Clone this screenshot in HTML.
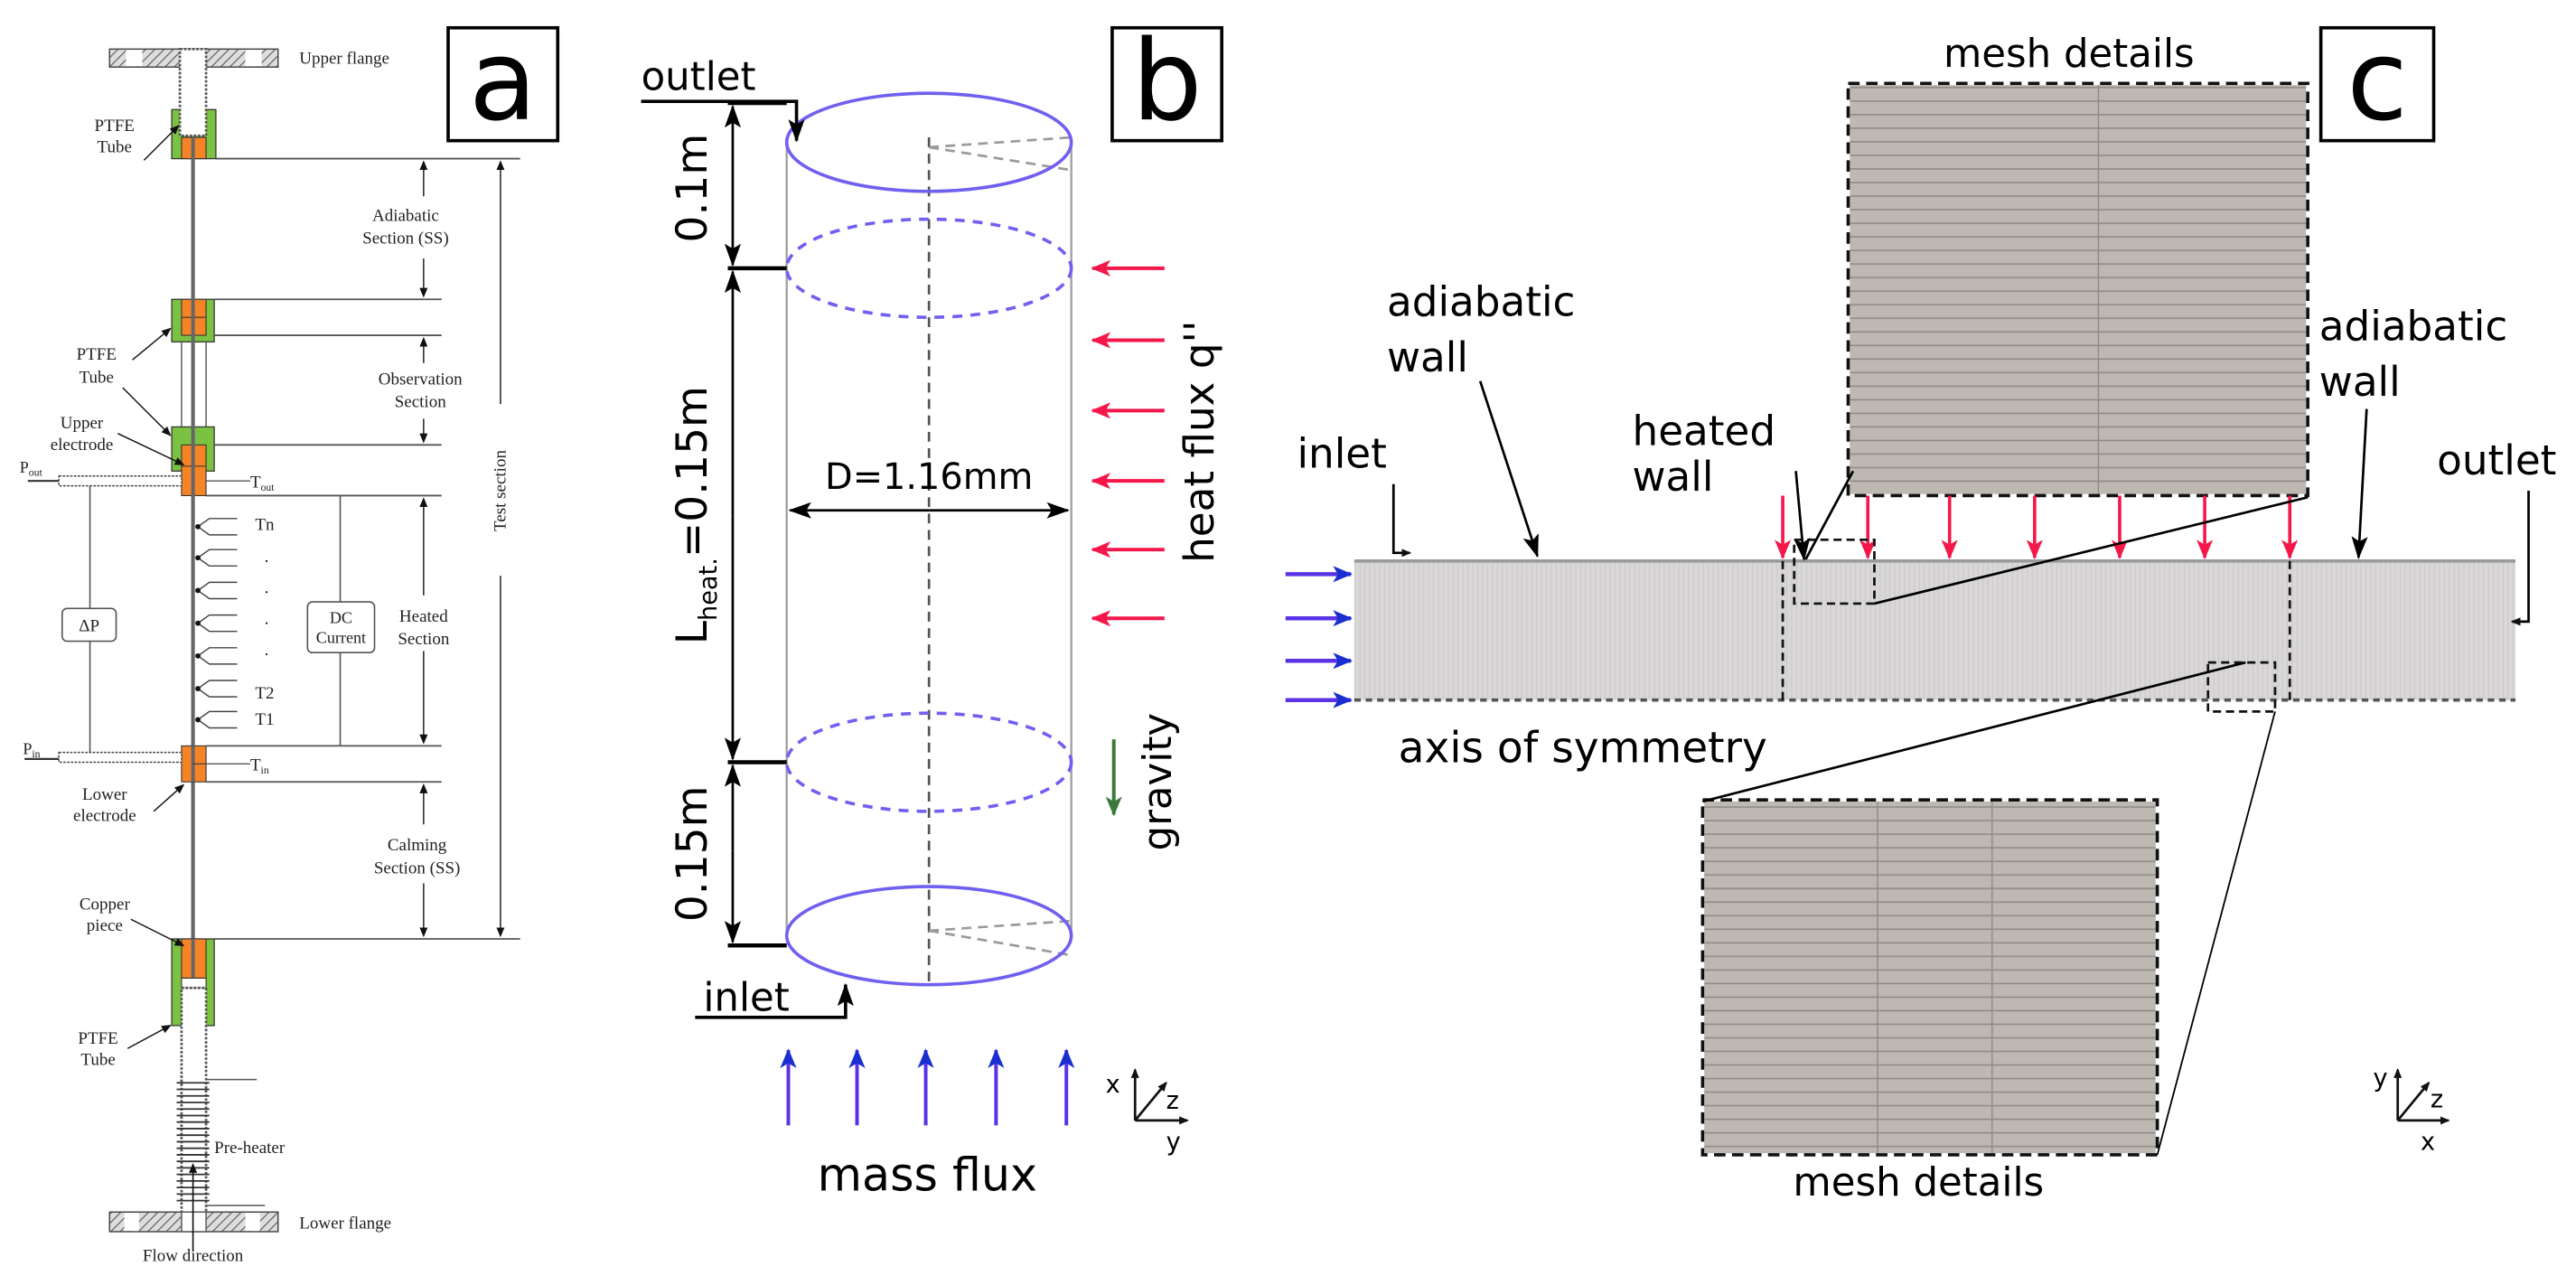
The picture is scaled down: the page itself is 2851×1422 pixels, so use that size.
<!DOCTYPE html>
<html><head><meta charset="utf-8"><style>
html,body{margin:0;padding:0;background:#fff;}
svg{display:block;}
.s{font-family:"Liberation Serif",serif;fill:#222;}
.d{font-family:"DejaVu Sans","Liberation Sans",sans-serif;fill:#000;}
</style></head><body>
<svg width="2851" height="1422" viewBox="0 0 1575 785.6" preserveAspectRatio="none" xmlns="http://www.w3.org/2000/svg">
<defs>
<pattern id="h" width="4" height="4" patternUnits="userSpaceOnUse" patternTransform="rotate(45)"><rect width="4" height="4" fill="#ddd"/><line x1="0" y1="0" x2="0" y2="4" stroke="#555" stroke-width="1.2"/></pattern>
<marker id="as" markerWidth="6" markerHeight="6" refX="5" refY="3" orient="auto" markerUnits="userSpaceOnUse"><path d="M0,0.5 L6,3 L0,5.5 Z" fill="#111"/></marker>
<marker id="ak" markerWidth="14" markerHeight="10" refX="13" refY="5" orient="auto" markerUnits="userSpaceOnUse"><path d="M0,0 L14,5 L0,10 L3,5 Z" fill="#000"/></marker>
<marker id="ar" markerWidth="12" markerHeight="10" refX="11" refY="5" orient="auto" markerUnits="userSpaceOnUse"><path d="M0,0 L12,5 L0,10 L3,5 Z" fill="#f5174a"/></marker>
<marker id="abl" markerWidth="12" markerHeight="10" refX="11" refY="5" orient="auto" markerUnits="userSpaceOnUse"><path d="M0,0 L12,5 L0,10 L3,5 Z" fill="#1a2fd0"/></marker>
<marker id="ag" markerWidth="12" markerHeight="10" refX="11" refY="5" orient="auto" markerUnits="userSpaceOnUse"><path d="M0,0 L12,5 L0,10 L3,5 Z" fill="#3c7a3c"/></marker>
<pattern id="mesh1" width="10" height="8.3" patternUnits="userSpaceOnUse" y="53"><rect width="10" height="8.3" fill="#bdb8b2"/><line x1="0" y1="0.5" x2="10" y2="0.5" stroke="#8f8a86" stroke-width="0.9"/></pattern>
<pattern id="chan" width="3" height="3" patternUnits="userSpaceOnUse"><rect width="3" height="3" fill="#d9d7d7"/><line x1="0.5" y1="0" x2="0.5" y2="3" stroke="#c8c6c6" stroke-width="0.5"/></pattern>
</defs>

<!-- ============ PANEL A ============ -->
<rect x="67" y="30" width="103" height="11" fill="url(#h)" stroke="#444" stroke-width="0.8"/>
<rect x="77" y="30.5" width="10" height="10" fill="#fff"/>
<rect x="150" y="30.5" width="10" height="10" fill="#fff"/>
<text x="183" y="39" class="s" font-size="10.5">Upper flange</text>
<rect x="105" y="67" width="27" height="30" fill="#7cc242" stroke="#333" stroke-width="0.7"/>
<rect x="111" y="84" width="15" height="13" fill="#f58426" stroke="#333" stroke-width="0.6"/>
<rect x="110" y="30" width="16" height="53" fill="#fff" stroke="#555" stroke-width="1.5" stroke-dasharray="1.5,1"/>
<line x1="118" y1="84" x2="118" y2="740" stroke="#666" stroke-width="2.2"/>
<text x="70" y="80" class="s" font-size="10.5" text-anchor="middle">PTFE</text>
<text x="70" y="93" class="s" font-size="10.5" text-anchor="middle">Tube</text>
<line x1="88" y1="98" x2="109" y2="77" stroke="#111" stroke-width="0.8" marker-end="url(#as)"/>
<line x1="132" y1="97" x2="318" y2="97" stroke="#555" stroke-width="1"/>
<rect x="105" y="183" width="26" height="26" fill="#7cc242" stroke="#333" stroke-width="0.7"/>
<rect x="111" y="183" width="15" height="22" fill="#f58426" stroke="#333" stroke-width="0.6"/>
<line x1="111" y1="194" x2="126" y2="194" stroke="#333" stroke-width="0.6"/>
<line x1="131" y1="183" x2="270" y2="183" stroke="#555" stroke-width="1"/>
<line x1="131" y1="205" x2="270" y2="205" stroke="#555" stroke-width="1"/>
<line x1="111" y1="209" x2="111" y2="261" stroke="#555" stroke-width="0.8"/>
<line x1="126" y1="209" x2="126" y2="261" stroke="#555" stroke-width="0.8"/>
<rect x="105" y="261" width="26" height="27" fill="#7cc242" stroke="#333" stroke-width="0.7"/>
<rect x="111" y="272" width="15" height="31" fill="#f58426" stroke="#333" stroke-width="0.6"/>
<line x1="111" y1="285" x2="126" y2="285" stroke="#333" stroke-width="0.6"/>
<line x1="118" y1="97" x2="118" y2="740" stroke="#666" stroke-width="2.2"/>
<line x1="131" y1="272" x2="270" y2="272" stroke="#555" stroke-width="1"/>
<line x1="126" y1="303" x2="270" y2="303" stroke="#555" stroke-width="1"/>
<text x="59" y="220" class="s" font-size="10.5" text-anchor="middle">PTFE</text>
<text x="59" y="234" class="s" font-size="10.5" text-anchor="middle">Tube</text>
<line x1="81" y1="220" x2="104" y2="201" stroke="#111" stroke-width="0.8" marker-end="url(#as)"/>
<line x1="75" y1="237" x2="104" y2="266" stroke="#111" stroke-width="0.8" marker-end="url(#as)"/>
<text x="50" y="262" class="s" font-size="10.5" text-anchor="middle">Upper</text>
<text x="50" y="275" class="s" font-size="10.5" text-anchor="middle">electrode</text>
<line x1="72" y1="265" x2="112" y2="284" stroke="#111" stroke-width="0.8" marker-end="url(#as)"/>
<text x="12" y="289" class="s" font-size="10">P<tspan font-size="6.5" dy="2">out</tspan></text>
<line x1="17" y1="294" x2="36" y2="294" stroke="#333" stroke-width="1.2"/>
<rect x="36" y="291" width="75" height="6" fill="#fff" stroke="#444" stroke-width="0.8" stroke-dasharray="1.5,0.8"/>
<line x1="126" y1="294" x2="153" y2="294" stroke="#555" stroke-width="0.8"/>
<text x="153" y="298" class="s" font-size="10.5">T<tspan font-size="6.5" dy="2">out</tspan></text>
<g stroke="#444" stroke-width="0.8" fill="none">
<path d="M121,322 L128,317 H145 M121,322 L128,327 H145"/>
<path d="M121,341 L128,336 H145 M121,341 L128,346 H145"/>
<path d="M121,361 L128,356 H145 M121,361 L128,366 H145"/>
<path d="M121,381 L128,376 H145 M121,381 L128,386 H145"/>
<path d="M121,401 L128,396 H145 M121,401 L128,406 H145"/>
<path d="M121,421 L128,416 H145 M121,421 L128,426 H145"/>
<path d="M121,440 L128,435 H145 M121,440 L128,445 H145"/>
</g>
<g fill="#111"><circle cx="121" cy="322" r="1.6"/><circle cx="121" cy="341" r="1.6"/><circle cx="121" cy="361" r="1.6"/><circle cx="121" cy="381" r="1.6"/><circle cx="121" cy="401" r="1.6"/><circle cx="121" cy="421" r="1.6"/><circle cx="121" cy="440" r="1.6"/>
<circle cx="163" cy="343" r="0.6"/><circle cx="163" cy="362" r="0.6"/><circle cx="163" cy="381" r="0.6"/><circle cx="163" cy="400" r="0.6"/></g>
<text x="156" y="324" class="s" font-size="10.5">Tn</text>
<text x="156" y="427" class="s" font-size="10.5">T2</text>
<text x="156" y="443" class="s" font-size="10.5">T1</text>
<line x1="55" y1="297" x2="55" y2="372" stroke="#555" stroke-width="0.9"/>
<line x1="55" y1="392" x2="55" y2="460" stroke="#555" stroke-width="0.9"/>
<rect x="38" y="372" width="33" height="20" rx="3" fill="#fff" stroke="#555" stroke-width="0.9"/>
<text x="54.5" y="386" class="s" font-size="10.5" text-anchor="middle">ΔP</text>
<line x1="208" y1="303" x2="208" y2="368" stroke="#555" stroke-width="0.9"/>
<line x1="208" y1="399" x2="208" y2="456" stroke="#555" stroke-width="0.9"/>
<rect x="188" y="368" width="41" height="31" rx="3" fill="#fff" stroke="#555" stroke-width="0.9"/>
<text x="208.5" y="381" class="s" font-size="10" text-anchor="middle">DC</text>
<text x="208.5" y="393" class="s" font-size="10" text-anchor="middle">Current</text>
<rect x="111" y="456" width="15" height="22" fill="#f58426" stroke="#333" stroke-width="0.6"/>
<line x1="118" y1="456" x2="118" y2="478" stroke="#666" stroke-width="2.2"/>
<line x1="118" y1="467" x2="126" y2="467" stroke="#333" stroke-width="0.6"/>
<line x1="126" y1="456" x2="270" y2="456" stroke="#555" stroke-width="1"/>
<line x1="126" y1="478" x2="270" y2="478" stroke="#555" stroke-width="1"/>
<line x1="126" y1="467" x2="153" y2="467" stroke="#555" stroke-width="0.8"/>
<text x="153" y="471" class="s" font-size="10.5">T<tspan font-size="6.5" dy="2">in</tspan></text>
<text x="14" y="461" class="s" font-size="10">P<tspan font-size="6.5" dy="2">in</tspan></text>
<line x1="15" y1="464" x2="36" y2="464" stroke="#333" stroke-width="1.2"/>
<rect x="36" y="460" width="75" height="6" fill="#fff" stroke="#444" stroke-width="0.8" stroke-dasharray="1.5,0.8"/>
<text x="64" y="489" class="s" font-size="10.5" text-anchor="middle">Lower</text>
<text x="64" y="502" class="s" font-size="10.5" text-anchor="middle">electrode</text>
<line x1="94" y1="496" x2="112" y2="480" stroke="#111" stroke-width="0.8" marker-end="url(#as)"/>
<rect x="105" y="574" width="26" height="53" fill="#7cc242" stroke="#333" stroke-width="0.7"/>
<rect x="111" y="574" width="15" height="24" fill="#f58426" stroke="#333" stroke-width="0.6"/>
<line x1="118" y1="574" x2="118" y2="598" stroke="#666" stroke-width="2.2"/>
<rect x="111" y="598" width="15" height="6" fill="#fff" stroke="#333" stroke-width="0.6"/>
<rect x="111" y="604" width="15" height="140" fill="#fff" stroke="#555" stroke-width="1.5" stroke-dasharray="1.5,1"/>
<text x="64" y="556" class="s" font-size="10.5" text-anchor="middle">Copper</text>
<text x="64" y="569" class="s" font-size="10.5" text-anchor="middle">piece</text>
<line x1="80" y1="562" x2="112" y2="578" stroke="#111" stroke-width="0.8" marker-end="url(#as)"/>
<text x="60" y="638" class="s" font-size="10.5" text-anchor="middle">PTFE</text>
<text x="60" y="651" class="s" font-size="10.5" text-anchor="middle">Tube</text>
<line x1="78" y1="641" x2="104" y2="627" stroke="#111" stroke-width="0.8" marker-end="url(#as)"/>
<g stroke="#333" stroke-width="1">
<line x1="108" y1="662" x2="128" y2="662"/><line x1="108" y1="666" x2="128" y2="666"/><line x1="108" y1="670" x2="128" y2="670"/><line x1="108" y1="674" x2="128" y2="674"/><line x1="108" y1="678" x2="128" y2="678"/><line x1="108" y1="682" x2="128" y2="682"/><line x1="108" y1="686" x2="128" y2="686"/><line x1="108" y1="690" x2="128" y2="690"/><line x1="108" y1="694" x2="128" y2="694"/><line x1="108" y1="698" x2="128" y2="698"/><line x1="108" y1="702" x2="128" y2="702"/><line x1="108" y1="706" x2="128" y2="706"/><line x1="108" y1="710" x2="128" y2="710"/><line x1="108" y1="714" x2="128" y2="714"/><line x1="108" y1="718" x2="128" y2="718"/><line x1="108" y1="722" x2="128" y2="722"/><line x1="108" y1="726" x2="128" y2="726"/><line x1="108" y1="730" x2="128" y2="730"/><line x1="108" y1="734" x2="128" y2="734"/>
</g>
<line x1="126" y1="660" x2="157" y2="660" stroke="#555" stroke-width="0.8"/>
<line x1="126" y1="737" x2="162" y2="737" stroke="#555" stroke-width="0.8"/>
<text x="131" y="705" class="s" font-size="10.5">Pre-heater</text>
<rect x="67" y="741" width="103" height="12" fill="url(#h)" stroke="#444" stroke-width="0.8"/>
<rect x="76" y="741.5" width="9" height="11" fill="#fff"/>
<rect x="150" y="741.5" width="9" height="11" fill="#fff"/>
<rect x="111" y="741" width="15" height="12" fill="#fff" stroke="#555" stroke-width="0.8"/>
<line x1="118" y1="765" x2="118" y2="712" stroke="#111" stroke-width="0.9" marker-end="url(#as)"/>
<text x="183" y="751" class="s" font-size="10.5">Lower flange</text>
<text x="118" y="771" class="s" font-size="10.5" text-anchor="middle">Flow direction</text>
<g stroke="#333" stroke-width="0.9">
<line x1="259" y1="120" x2="259" y2="99" marker-end="url(#as)"/>
<line x1="259" y1="158" x2="259" y2="181" marker-end="url(#as)"/>
<line x1="259" y1="222" x2="259" y2="207" marker-end="url(#as)"/>
<line x1="259" y1="256" x2="259" y2="270" marker-end="url(#as)"/>
<line x1="259" y1="364" x2="259" y2="305" marker-end="url(#as)"/>
<line x1="259" y1="398" x2="259" y2="454" marker-end="url(#as)"/>
<line x1="259" y1="504" x2="259" y2="480" marker-end="url(#as)"/>
<line x1="259" y1="540" x2="259" y2="572" marker-end="url(#as)"/>
<line x1="306" y1="247" x2="306" y2="99" marker-end="url(#as)"/>
<line x1="306" y1="352" x2="306" y2="572" marker-end="url(#as)"/>
</g>
<line x1="131" y1="574" x2="318" y2="574" stroke="#555" stroke-width="1"/>
<text x="248" y="135" class="s" font-size="10.5" text-anchor="middle">Adiabatic</text>
<text x="248" y="149" class="s" font-size="10.5" text-anchor="middle">Section (SS)</text>
<text x="257" y="235" class="s" font-size="10.5" text-anchor="middle">Observation</text>
<text x="257" y="249" class="s" font-size="10.5" text-anchor="middle">Section</text>
<text x="259" y="380" class="s" font-size="10.5" text-anchor="middle">Heated</text>
<text x="259" y="394" class="s" font-size="10.5" text-anchor="middle">Section</text>
<text x="255" y="520" class="s" font-size="10.5" text-anchor="middle">Calming</text>
<text x="255" y="534" class="s" font-size="10.5" text-anchor="middle">Section (SS)</text>
<text transform="translate(309,300) rotate(-90)" class="s" font-size="10.5" text-anchor="middle">Test section</text>
<rect x="274" y="17" width="67" height="69" fill="#fff" stroke="#000" stroke-width="2"/>
<text x="307.5" y="73" class="d" font-size="68" text-anchor="middle">a</text>

<!-- ============ PANEL B ============ -->
<rect x="680" y="17" width="67" height="69" fill="#fff" stroke="#000" stroke-width="2"/>
<text x="713.5" y="73" class="d" font-size="68" text-anchor="middle">b</text>
<line x1="481" y1="87" x2="481" y2="572" stroke="#a0a0a0" stroke-width="1.3"/>
<line x1="655" y1="87" x2="655" y2="572" stroke="#a0a0a0" stroke-width="1.3"/>
<line x1="568" y1="84" x2="568" y2="600" stroke="#555" stroke-width="1.5" stroke-dasharray="6,4"/>
<g stroke="#9a9a9a" stroke-width="1.5" stroke-dasharray="6,4" fill="none">
<path d="M568,90 L655,84 M568,90 L655,104"/>
<path d="M568,569 L655,563 M568,569 L655,584"/>
</g>
<ellipse cx="568" cy="87" rx="87" ry="30" fill="none" stroke="#7060f0" stroke-width="2"/>
<ellipse cx="568" cy="164" rx="87" ry="30" fill="none" stroke="#7060f0" stroke-width="2" stroke-dasharray="6,5"/>
<ellipse cx="568" cy="466" rx="87" ry="30" fill="none" stroke="#7060f0" stroke-width="2" stroke-dasharray="6,5"/>
<ellipse cx="568" cy="572" rx="87" ry="30" fill="none" stroke="#7060f0" stroke-width="2"/>
<text x="392" y="55" class="d" font-size="24">outlet</text>
<path d="M392,62 H487 V86" fill="none" stroke="#000" stroke-width="2" marker-end="url(#ak)"/>
<g stroke="#000" stroke-width="2.5">
<line x1="445" y1="63" x2="481" y2="63"/>
<line x1="445" y1="164" x2="481" y2="164"/>
<line x1="445" y1="466" x2="481" y2="466"/>
<line x1="445" y1="578" x2="481" y2="578"/>
</g>
<g stroke="#000" stroke-width="1.5">
<line x1="448" y1="113" x2="448" y2="65" marker-end="url(#ak)"/>
<line x1="448" y1="113" x2="448" y2="162" marker-end="url(#ak)"/>
<line x1="448" y1="315" x2="448" y2="166" marker-end="url(#ak)"/>
<line x1="448" y1="315" x2="448" y2="464" marker-end="url(#ak)"/>
<line x1="448" y1="520" x2="448" y2="468" marker-end="url(#ak)"/>
<line x1="448" y1="520" x2="448" y2="576" marker-end="url(#ak)"/>
</g>
<text transform="translate(432,115) rotate(-90)" class="d" font-size="26" text-anchor="middle">0.1m</text>
<text transform="translate(432,315) rotate(-90)" class="d" font-size="26" text-anchor="middle">L<tspan font-size="15" dy="6">heat.</tspan><tspan dy="-6">=0.15m</tspan></text>
<text transform="translate(432,522) rotate(-90)" class="d" font-size="26" text-anchor="middle">0.15m</text>
<text x="568" y="299" class="d" font-size="22" text-anchor="middle">D=1.16mm</text>
<line x1="568" y1="312" x2="483" y2="312" stroke="#000" stroke-width="1.5" marker-end="url(#ak)"/>
<line x1="568" y1="312" x2="653" y2="312" stroke="#000" stroke-width="1.5" marker-end="url(#ak)"/>
<g stroke="#f5174a" stroke-width="2.2">
<line x1="712" y1="164" x2="668" y2="164" marker-end="url(#ar)"/>
<line x1="712" y1="208" x2="668" y2="208" marker-end="url(#ar)"/>
<line x1="712" y1="251" x2="668" y2="251" marker-end="url(#ar)"/>
<line x1="712" y1="294" x2="668" y2="294" marker-end="url(#ar)"/>
<line x1="712" y1="336" x2="668" y2="336" marker-end="url(#ar)"/>
<line x1="712" y1="378" x2="668" y2="378" marker-end="url(#ar)"/>
</g>
<text transform="translate(742,270) rotate(-90)" class="d" font-size="25" text-anchor="middle">heat flux q''</text>
<line x1="681" y1="452" x2="681" y2="498" stroke="#3c7a3c" stroke-width="2.2" marker-end="url(#ag)"/>
<text transform="translate(716,478) rotate(-90)" class="d" font-size="24" text-anchor="middle">gravity</text>
<text x="430" y="618" class="d" font-size="24">inlet</text>
<path d="M425,622 H517 V602" fill="none" stroke="#000" stroke-width="2" marker-end="url(#ak)"/>
<g stroke="#5a32e6" stroke-width="2.2">
<line x1="482" y1="688" x2="482" y2="642" marker-end="url(#abl)"/>
<line x1="524" y1="688" x2="524" y2="642" marker-end="url(#abl)"/>
<line x1="566" y1="688" x2="566" y2="642" marker-end="url(#abl)"/>
<line x1="609" y1="688" x2="609" y2="642" marker-end="url(#abl)"/>
<line x1="652" y1="688" x2="652" y2="642" marker-end="url(#abl)"/>
</g>
<text x="567" y="728" class="d" font-size="28" text-anchor="middle">mass flux</text>
<g stroke="#111" stroke-width="1.5">
<line x1="694" y1="685" x2="694" y2="654" marker-end="url(#as)"/>
<line x1="694" y1="685" x2="726" y2="685" marker-end="url(#as)"/>
<line x1="694" y1="685" x2="713" y2="662" marker-end="url(#as)"/>
</g>
<text x="676" y="668" class="d" font-size="15">x</text>
<text x="713" y="678" class="d" font-size="15">z</text>
<text x="713" y="703" class="d" font-size="15">y</text>

<!-- ============ PANEL C ============ -->
<rect x="1419" y="17" width="69" height="69" fill="#fff" stroke="#000" stroke-width="2"/>
<text x="1453.5" y="73" class="d" font-size="68" text-anchor="middle">c</text>
<text x="1265" y="41" class="d" font-size="24" text-anchor="middle">mesh details</text>
<rect x="1131" y="52" width="279" height="250" fill="url(#mesh1)"/>
<line x1="1283" y1="52" x2="1283" y2="302" stroke="#8f8a86" stroke-width="0.8"/>
<rect x="1130" y="51" width="281" height="252" fill="none" stroke="#111" stroke-width="2" stroke-dasharray="7,4"/>
<rect x="828" y="343" width="710" height="85" fill="url(#chan)"/>
<line x1="828" y1="343" x2="1538" y2="343" stroke="#9a9a9a" stroke-width="2"/>
<line x1="828" y1="428" x2="1538" y2="428" stroke="#555" stroke-width="2" stroke-dasharray="4,3"/>
<g stroke="#5a32e6" stroke-width="2.5">
<line x1="786" y1="351" x2="826" y2="351" marker-end="url(#abl)"/>
<line x1="786" y1="378" x2="826" y2="378" marker-end="url(#abl)"/>
<line x1="786" y1="404" x2="826" y2="404" marker-end="url(#abl)"/>
<line x1="786" y1="428" x2="826" y2="428" marker-end="url(#abl)"/>
</g>
<g stroke="#f5174a" stroke-width="2">
<line x1="1090" y1="303" x2="1090" y2="341" marker-end="url(#ar)"/>
<line x1="1142" y1="303" x2="1142" y2="341" marker-end="url(#ar)"/>
<line x1="1192" y1="303" x2="1192" y2="341" marker-end="url(#ar)"/>
<line x1="1244" y1="303" x2="1244" y2="341" marker-end="url(#ar)"/>
<line x1="1296" y1="303" x2="1296" y2="341" marker-end="url(#ar)"/>
<line x1="1348" y1="303" x2="1348" y2="341" marker-end="url(#ar)"/>
<line x1="1400" y1="303" x2="1400" y2="341" marker-end="url(#ar)"/>
</g>
<g stroke="#111" stroke-width="1.5" stroke-dasharray="5,3" fill="none">
<line x1="1090" y1="343" x2="1090" y2="430"/>
<line x1="1400" y1="343" x2="1400" y2="430"/>
<rect x="1097" y="330" width="49" height="39"/>
<rect x="1350" y="405" width="41" height="30"/>
</g>
<rect x="1042" y="490" width="276" height="215" fill="url(#mesh1)"/>
<line x1="1148" y1="490" x2="1148" y2="705" stroke="#8f8a86" stroke-width="0.8"/>
<line x1="1218" y1="490" x2="1218" y2="705" stroke="#8f8a86" stroke-width="0.8"/>
<rect x="1041" y="489" width="278" height="217" fill="none" stroke="#111" stroke-width="2" stroke-dasharray="7,4"/>
<g stroke="#000" stroke-width="1.5">
<line x1="1146" y1="369" x2="1411" y2="304"/>
<line x1="1373" y1="405" x2="1041" y2="490"/>
<line x1="1391" y1="435" x2="1319" y2="706" stroke-width="1"/>
</g>
<text x="848" y="193" class="d" font-size="25">adiabatic</text>
<text x="848" y="227" class="d" font-size="25">wall</text>
<line x1="905" y1="233" x2="940" y2="340" stroke="#000" stroke-width="1.5" marker-end="url(#ak)"/>
<text x="998" y="272" class="d" font-size="25">heated</text>
<text x="998" y="300" class="d" font-size="25">wall</text>
<line x1="1098" y1="288" x2="1103" y2="342" stroke="#000" stroke-width="1.5" marker-end="url(#ak)"/>
<line x1="1133" y1="288" x2="1104" y2="342" stroke="#000" stroke-width="1.5"/>
<text x="1418" y="208" class="d" font-size="25">adiabatic</text>
<text x="1418" y="242" class="d" font-size="25">wall</text>
<line x1="1447" y1="250" x2="1442" y2="341" stroke="#000" stroke-width="1.5" marker-end="url(#ak)"/>
<text x="793" y="286" class="d" font-size="25">inlet</text>
<path d="M852,296 V338 H862" fill="none" stroke="#000" stroke-width="1.5" marker-end="url(#as)"/>
<text x="1490" y="290" class="d" font-size="25">outlet</text>
<path d="M1546,300 V380 H1536" fill="none" stroke="#000" stroke-width="1.5" marker-end="url(#as)"/>
<text x="855" y="466" class="d" font-size="26">axis of symmetry</text>
<text x="1173" y="731" class="d" font-size="24" text-anchor="middle">mesh details</text>
<g stroke="#111" stroke-width="1.5">
<line x1="1466" y1="685" x2="1466" y2="654" marker-end="url(#as)"/>
<line x1="1466" y1="685" x2="1497" y2="685" marker-end="url(#as)"/>
<line x1="1466" y1="685" x2="1485" y2="662" marker-end="url(#as)"/>
</g>
<text x="1451" y="664" class="d" font-size="15">y</text>
<text x="1486" y="677" class="d" font-size="15">z</text>
<text x="1480" y="703" class="d" font-size="15">x</text>
</svg>
</body></html>
